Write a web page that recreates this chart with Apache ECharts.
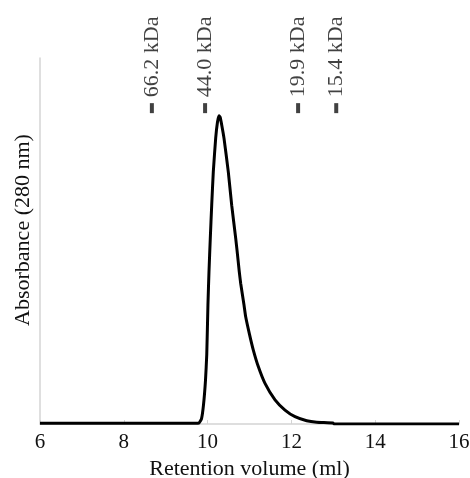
<!DOCTYPE html>
<html>
<head>
<meta charset="utf-8">
<script src="https://cdn.jsdelivr.net/npm/echarts@6/dist/echarts.min.js"></script>
<style>
html,body{margin:0;padding:0;background:#fff;}
#chart{width:470px;height:478px;}
</style>
</head>
<body>
<div id="chart"></div>
<script>
// Retention volume (ml)
const volume = [6.0, 8.0, 9.70, 9.795, 9.854, 9.902, 9.950, 9.980, 10.008, 10.033, 10.064, 10.098, 10.136,
  10.193, 10.236, 10.272, 10.300, 10.337, 10.391, 10.494, 10.575, 10.671, 10.702, 10.756, 10.790, 10.869,
  10.909, 11.000, 11.091, 11.210, 11.370, 11.609, 11.847, 12.086, 12.365, 12.604, 12.990, 13.020, 14.0, 16.0];
// Absorbance (arbitrary units)
const absorbance = [0.002, 0.002, 0.002, 0.003, 0.014, 0.052, 0.120, 0.190, 0.325, 0.416, 0.507, 0.598, 0.689,
  0.781, 0.825, 0.842, 0.838, 0.817, 0.781, 0.689, 0.598, 0.507, 0.475, 0.416, 0.384, 0.325,
  0.293, 0.245, 0.202, 0.157, 0.111, 0.066, 0.038, 0.020, 0.009, 0.005, 0.003, 0.0, 0.0, 0.0];
// Molecular weight standards
const markerVolume = [8.67, 9.94, 12.16, 13.07];
const markerLabel = ['66.2 kDa', '44.0 kDa', '19.9 kDa', '15.4 kDa'];
const markerHeight = 0.863;

const xTicks = [6, 8, 10, 12, 14, 16];

const FONT = 'Liberation Serif';
const chart = echarts.init(document.getElementById('chart'), null, {renderer: 'canvas'});
chart.setOption({
  animation: false,
  backgroundColor: '#fff',
  grid: {left: 40, right: 11, top: 58, bottom: 54, containLabel: false, outerBoundsMode: 'none'},
  xAxis: {
    type: 'value', min: xTicks[0], max: xTicks[xTicks.length - 1], interval: 2,
    name: 'Retention volume (ml)', nameLocation: 'middle', nameGap: 34,
    nameTextStyle: {fontFamily: FONT, fontSize: 22, color: '#111'},
    axisLine: {lineStyle: {color: '#d4d4d4', width: 1.5}},
    axisTick: {show: true, inside: true, length: 4, lineStyle: {color: '#d4d4d4'}},
    axisLabel: {fontFamily: FONT, fontSize: 21, color: '#111', margin: 8},
    splitLine: {show: false}
  },
  yAxis: {
    type: 'value', min: 0, max: 1,
    name: 'Absorbance (280 nm)', nameLocation: 'middle', nameGap: 6,
    nameTextStyle: {fontFamily: FONT, fontSize: 22, color: '#111', padding: [0, 0, 0, 22]},
    axisLine: {show: true, lineStyle: {color: '#d4d4d4', width: 1.5}},
    axisTick: {show: false}, axisLabel: {show: false}, splitLine: {show: false}
  },
  series: [
    {
      type: 'line', data: volume.map((v, i) => [v, absorbance[i]]),
      showSymbol: false, smooth: 0.15,
      lineStyle: {color: '#000', width: 3}, z: 3
    },
    {
      type: 'scatter',
      data: markerVolume.map((v, i) => ({value: [v, markerHeight], name: markerLabel[i]})),
      symbol: 'rect', symbolSize: [4, 10],
      itemStyle: {color: '#111'},
      label: {
        show: true, position: 'top', distance: 6, rotate: 90,
        align: 'left', verticalAlign: 'middle',
        formatter: p => p.name,
        fontFamily: FONT, fontSize: 22, color: '#111'
      },
      z: 4
    }
  ]
});
</script>
</body>
</html>
